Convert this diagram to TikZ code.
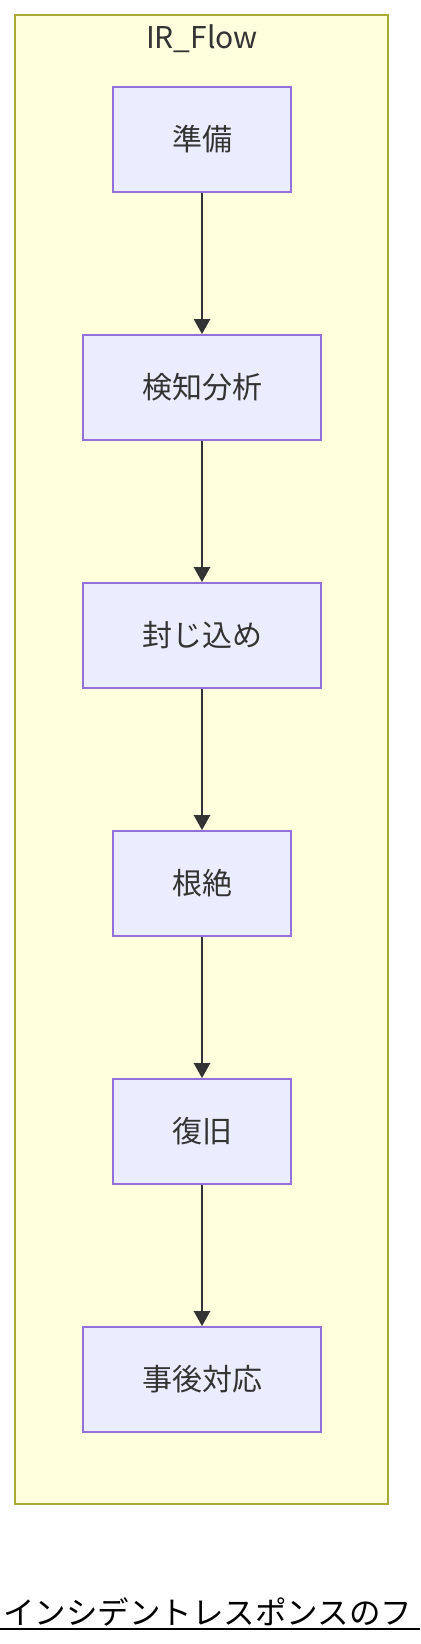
\documentclass[tikz,border=0pt]{standalone}
\usepackage{fontspec}
\setmainfont{Noto Sans CJK JP}
\usepackage{tikz}
\usetikzlibrary{arrows.meta}
\definecolor{clfill}{HTML}{FFFFDE}
\definecolor{cldraw}{HTML}{AAAA33}
\definecolor{stfill}{HTML}{ECECFF}
\definecolor{stdraw}{HTML}{9370DB}
\definecolor{ink}{HTML}{333333}
\tikzset{>={Triangle[length=7.5pt,width=8pt]}}

\begin{document}
\begin{tikzpicture}[
	x=0.5pt, y=-0.5pt,
	cluster/.style = {
		draw=cldraw, fill=clfill,
		line width=0.9pt
	},
	stage/.style = {
		rectangle, draw=stdraw, fill=stfill,
		line width=0.9pt,
		align=center,
		minimum height=52.5pt,
		inner xsep=29.5pt,
		text=ink,
		font=\fontsize{15pt}{18pt}\selectfont
	},
	flow/.style = {
		->, draw=ink, line width=1.3pt
	},
	title/.style = {
		anchor=base, text=ink,
		font=\fontsize{15pt}{18pt}\selectfont
	}
]
	\useasboundingbox (0, 0) rectangle (420, 1644);
	% Cluster
	\draw[cluster] (15, 15) rectangle (388, 1504);
	\node[title] (irflow) at (202, 48) {IR\_Flow};
	% Stages
	\node[stage] (prep) at (202, 139.5) {準備};
	\node[stage] (detect) at (202, 387.5) {検知分析};
	\node[stage] (contain) at (202, 635.5) {封じ込め};
	\node[stage] (erad) at (202, 883.5) {根絶};
	\node[stage] (recov) at (202, 1131.5) {復旧};
	\node[stage] (post) at (202, 1379.5) {事後対応};
	% Stage connections
	\draw[flow] (prep) -- (detect);
	\draw[flow] (detect) -- (contain);
	\draw[flow] (contain) -- (erad);
	\draw[flow] (erad) -- (recov);
	\draw[flow] (recov) -- (post);
	% Caption
	\node[anchor=base west, inner sep=0pt,
		font=\fontsize{15.75pt}{18pt}\selectfont] (caption) at (3, 1624)
		{インシデントレスポンスのフ};
	\draw[line width=1.15pt] (0, 1629) -- (420, 1629);
\end{tikzpicture}
\end{document}
